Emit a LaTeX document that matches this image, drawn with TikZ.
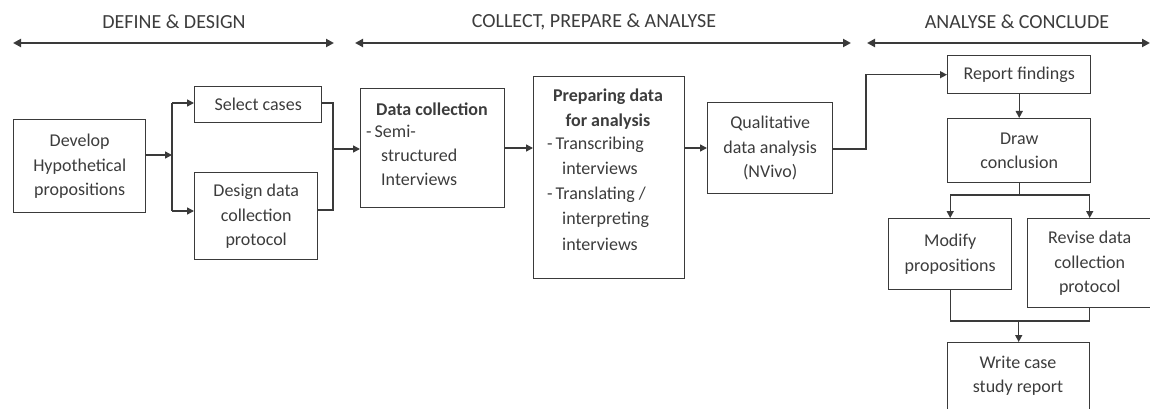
\documentclass[tikz,border=0pt]{standalone}
\usepackage{fontspec}
\setmainfont{Carlito}
\usetikzlibrary{arrows.meta}
\definecolor{ink}{HTML}{3A3A3A}
\definecolor{txt}{HTML}{3C3C3C}
\tikzset{
  box/.style={draw=ink, line width=1.4pt, anchor=north west, inner sep=0pt, align=center, text=txt,
    font=\fontsize{18}{24.5}\selectfont},
  lbl/.style={text=txt, inner sep=0pt, font=\fontsize{18}{24.5}\selectfont},
  head/.style={text=txt, inner sep=0pt, font=\fontsize{20}{24}\selectfont},
  conn/.style={draw=ink, line width=1.4pt},
  arr/.style={conn, -{Triangle[length=7pt,width=7pt]}},
  phase/.style={draw=ink, line width=2pt, {Triangle[length=8pt,width=8pt]}-{Triangle[length=8pt,width=8pt]}},
}
\begin{document}
\begin{tikzpicture}[x=1pt,y=-1pt]
\useasboundingbox (0,0) rectangle (1150,409);
% phase headers
\node[head] (h1) at (174,22) {DEFINE \& DESIGN};
\node[head] (h2) at (594,22) {COLLECT, PREPARE \& ANALYSE};
\node[head] (h3) at (1017,22) {ANALYSE \& CONCLUDE};
\coordinate (a1l) at (13,43); \coordinate (a1r) at (334,43);
\coordinate (a2l) at (355,43); \coordinate (a2r) at (851,43);
\coordinate (a3l) at (867,43); \coordinate (a3r) at (1150,43);
\draw[phase] (a1l) -- (a1r);
\draw[phase] (a2l) -- (a2r);
\draw[phase] (a3l) -- (a3r);

% boxes
\node[box, minimum width=132pt, minimum height=93pt] (dev) at (13,119) {\raisebox{-3pt}{\begin{tabular}{@{}c@{}}Develop\\Hypothetical\\propositions\end{tabular}}};
\node[box, minimum width=127pt, minimum height=36pt] (sel) at (194,86) {Select cases};
\node[box, minimum width=123pt, minimum height=87pt] (des) at (194,172) {Design data\\collection\\protocol};
\node[box, minimum width=144pt, minimum height=119pt] (dat) at (360,88) {};
\node[box, minimum width=151pt, minimum height=202pt] (pre) at (533,76) {};
\node[box, minimum width=125pt, minimum height=91pt] (qua) at (707,102) {Qualitative\\data analysis\\(NVivo)};
\node[box, minimum width=143pt, minimum height=38pt] (rep) at (947,55) {Report findings};
\node[box, minimum width=143pt, minimum height=64pt] (drw) at (947,118) {Draw\\conclusion};
\node[box, minimum width=123pt, minimum height=71pt] (mod) at (888,218) {Modify\\propositions};
\node[box, minimum width=124pt, minimum height=89pt] (rev) at (1027,218) {Revise data\\collection\\protocol};
\node[box, minimum width=142pt, minimum height=80pt, anchor=north west] (wri) at (947,342) {};
\node[lbl, anchor=north] (writ) at (1018,351) {\begin{tabular}{@{}c@{}}Write case\\study report\end{tabular}};

% data collection text
\node[lbl, font=\fontsize{18}{24.5}\selectfont\bfseries] (dc1) at (432,109) {Data collection};
\node[lbl, anchor=mid west] (dc2) at (366,135) {-\kern3pt Semi-};
\node[lbl, anchor=mid west] (dc3) at (381,159) {structured};
\node[lbl, anchor=mid west] (dc4) at (381,183) {Interviews};

% preparing text
\node[lbl, font=\fontsize{18}{24.5}\selectfont\bfseries] (pd1) at (608,97) {Preparing data};
\node[lbl, font=\fontsize{18}{24.5}\selectfont\bfseries] (pd2) at (608,122) {for analysis};
\node[lbl, anchor=mid west] (pd3) at (547,147) {-\kern3pt Transcribing};
\node[lbl, anchor=mid west] (pd4) at (562,172) {interviews};
\node[lbl, anchor=mid west] (pd5) at (547,197) {-\kern3pt Translating /};
\node[lbl, anchor=mid west] (pd6) at (562,222) {interpreting};
\node[lbl, anchor=mid west] (pd7) at (562,248) {interviews};

% connectors: define stage
\coordinate (fk) at (172,155);
\coordinate (fkt) at (172,103);
\coordinate (fkb) at (172,211);
\draw[arr] (dev.east |- fk) -- (fk);
\draw[conn] (fkt) -- (fkb);
\draw[arr] (fkt) -- (sel.west |- fkt);
\draw[arr] (fkb) -- (des.west |- fkb);
\coordinate (mg) at (333,149);
\draw[conn] (sel.east |- fkt) -| (mg) |- (des.east |- 0,210);
\draw[arr] (mg) -- (dat.west |- mg);

% collect stage
\draw[arr] (dat.east |- 0,148) -- (pre.west |- 0,148);
\draw[arr] (pre.east |- 0,148) -- (qua.west |- 0,148);
\coordinate (qr) at (866,149);
\draw[arr] (qua.east |- qr) -- (qr) |- (rep.west);

% conclude stage
\draw[arr] (rep.south) -- (drw.north);
\coordinate (sp) at (drw.south |- 0,195);
\draw[conn] (drw.south) -- (sp);
\draw[conn] (mod.north |- sp) -- (rev.north |- sp);
\draw[arr] (mod.north |- sp) -- (mod.north);
\draw[arr] (rev.north |- sp) -- (rev.north);
\coordinate (jn) at (wri.north |- 0,321);
\draw[conn] (mod.south) -- (mod.south |- jn) -- (rev.south |- jn) -- (rev.south);
\draw[arr] (jn) -- (wri.north);
\end{tikzpicture}
\end{document}
